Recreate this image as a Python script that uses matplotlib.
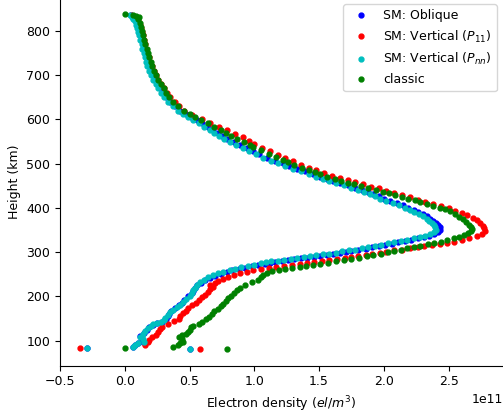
import numpy as np
import matplotlib
matplotlib.use('Agg')
import matplotlib.pyplot as plt

plt.rcParams['font.size'] = 9

# electron density profiles, density in units of 1e11 el/m^3, height in km
h_obl = [836, 832, 828, 822, 814, 806, 798, 790, 780, 770, 760, 750, 740, 730, 720, 710, 700, 690, 680,
         670, 660, 650, 640, 630, 620, 612, 605, 598, 591, 584, 577, 570, 563, 556, 549, 542, 535, 528,
         521, 514, 507, 501, 495, 489, 483, 477, 471, 466, 461, 456, 451, 446, 441, 436, 431, 426, 421,
         416, 411, 406, 401, 396, 391, 386, 381, 376, 371, 366, 361, 356, 351,
         346, 341, 337, 334, 331, 328, 325, 322, 319, 317, 314, 311, 308, 305, 303, 301, 298, 296, 294,
         292, 290, 288, 286, 284, 282, 280, 278, 276, 274, 271, 268, 265, 262, 259, 255, 251, 247, 242,
         237, 231, 225, 219, 213, 207, 200, 193, 186, 180, 173, 167, 161, 155, 149, 143, 140, 136, 131,
         124, 117, 111, 104, 97, 95, 90, 86, 84, 82]
ne_obl = [0.05, 0.065, 0.075, 0.09, 0.10, 0.105, 0.115, 0.12, 0.13, 0.14, 0.145, 0.155, 0.165, 0.175,
          0.185, 0.20, 0.215, 0.23, 0.25, 0.27, 0.295, 0.32, 0.35, 0.39, 0.43, 0.47, 0.51, 0.555, 0.60,
          0.64, 0.68, 0.72, 0.75, 0.79, 0.84, 0.89, 0.94, 0.99, 1.04, 1.10, 1.16, 1.22, 1.27, 1.33, 1.39,
          1.45, 1.51, 1.56, 1.61, 1.66, 1.72, 1.78, 1.83, 1.88, 1.92, 1.96, 2.00, 2.05, 2.10, 2.15, 2.19,
          2.23, 2.26, 2.30, 2.33, 2.36, 2.38, 2.40, 2.42, 2.43, 2.435,
          2.42, 2.39, 2.35, 2.31, 2.26, 2.21, 2.16, 2.11, 2.06, 2.01, 1.96, 1.91, 1.86, 1.80, 1.75, 1.71,
          1.66, 1.61, 1.56, 1.51, 1.46, 1.41, 1.36, 1.31, 1.26, 1.21, 1.16, 1.12, 1.08, 1.03, 0.98, 0.93,
          0.88, 0.83, 0.79, 0.74, 0.70, 0.66, 0.62, 0.59, 0.56, 0.54, 0.53, 0.52, 0.49, 0.46, 0.44, 0.42,
          0.39, 0.36, 0.34, 0.33, 0.32, 0.29, 0.25, 0.22, 0.19, 0.17, 0.15, 0.12, 0.13, 0.14, 0.10, 0.08,
          0.06, -0.29, 0.50]

h_p11 = [836, 832, 828, 822, 814, 806, 798, 790, 780, 770, 760, 750, 740, 730, 720, 710, 700, 690, 680,
         670, 660, 650, 640, 630, 620, 610, 600, 592, 584, 576, 568, 560, 552, 544, 536, 528, 520, 512,
         505, 498, 491, 485, 479, 473, 468, 463, 458, 453, 448, 444, 439, 434, 429, 424, 419, 414, 409,
         404, 399, 394, 389, 384, 378, 372, 366, 360, 354, 348,
         342, 337, 332, 328, 324, 321, 318, 316, 313, 311, 309, 306, 304, 301, 299, 297, 294, 292, 289,
         287, 285, 283, 280, 278, 276, 273, 271, 269, 267, 265, 262, 259, 256, 253, 249, 245, 240, 235,
         230, 226, 222, 216, 210, 204, 198, 192, 186, 180, 174, 168, 162, 156, 150, 144, 138, 132, 126,
         120, 114, 108, 102, 96, 90, 84, 82]
ne_p11 = [0.05, 0.07, 0.09, 0.105, 0.115, 0.125, 0.135, 0.14, 0.15, 0.155, 0.165, 0.175, 0.185, 0.195,
          0.21, 0.225, 0.24, 0.26, 0.28, 0.30, 0.325, 0.35, 0.385, 0.42, 0.46, 0.52, 0.60, 0.66, 0.73,
          0.79, 0.85, 0.91, 0.96, 1.00, 1.06, 1.12, 1.18, 1.24, 1.30, 1.36, 1.42, 1.48, 1.54, 1.60, 1.66,
          1.72, 1.78, 1.84, 1.90, 1.96, 2.02, 2.08, 2.14, 2.20, 2.26, 2.32, 2.38, 2.44, 2.50, 2.55, 2.60,
          2.645, 2.69, 2.72, 2.745, 2.765, 2.775, 2.78,
          2.76, 2.72, 2.66, 2.60, 2.54, 2.49, 2.43, 2.37, 2.31, 2.26, 2.20, 2.14, 2.08, 2.02, 1.97, 1.91,
          1.86, 1.80, 1.75, 1.70, 1.64, 1.58, 1.52, 1.46, 1.41, 1.35, 1.29, 1.23, 1.17, 1.11, 1.05, 0.99,
          0.94, 0.89, 0.84, 0.80, 0.76, 0.72, 0.70, 0.66, 0.68, 0.66, 0.64, 0.62, 0.60, 0.57, 0.55, 0.52,
          0.49, 0.47, 0.45, 0.43, 0.42, 0.38, 0.33, 0.29, 0.27, 0.26, 0.24, 0.21, 0.19, 0.18, 0.16,
          -0.345, 0.58]

h_pnn = [836, 832, 828, 822, 814, 806, 798, 790, 780, 770, 760, 750, 740, 730, 720, 710, 700, 690, 680,
         670, 660, 650, 640, 630, 620, 612, 605, 598, 591, 584, 577, 570, 563, 556, 549, 542, 535, 528,
         521, 514, 507, 501, 495, 489, 483, 477, 471, 466, 461, 456, 451, 446, 441, 436, 431, 426, 421,
         416, 411, 406, 401, 396, 391, 386, 381, 376, 371, 366, 361, 356, 351,
         346, 341, 337, 334, 331, 328, 325, 322, 320, 317, 314, 311, 309, 306, 304, 302, 299, 297, 295,
         293, 291, 289, 287, 285, 283, 281, 279, 277, 275, 272, 269, 266, 263, 260, 256, 252, 248, 243,
         238, 232, 226, 220, 214, 208, 201, 194, 187, 181, 176, 170, 164, 158, 152, 146, 142, 141, 138,
         133, 128, 121, 115, 109, 103, 98, 95, 91, 86, 84, 82]
ne_pnn = [0.04, 0.055, 0.065, 0.08, 0.09, 0.095, 0.105, 0.11, 0.12, 0.13, 0.135, 0.145, 0.155, 0.165,
          0.175, 0.19, 0.205, 0.22, 0.24, 0.26, 0.28, 0.305, 0.335, 0.37, 0.41, 0.45, 0.49, 0.53, 0.575,
          0.615, 0.655, 0.69, 0.725, 0.765, 0.81, 0.86, 0.91, 0.96, 1.01, 1.07, 1.13, 1.18, 1.24, 1.30,
          1.36, 1.42, 1.48, 1.53, 1.58, 1.63, 1.69, 1.75, 1.80, 1.85, 1.89, 1.93, 1.97, 2.02, 2.07, 2.12,
          2.16, 2.20, 2.23, 2.27, 2.30, 2.33, 2.35, 2.37, 2.385, 2.395, 2.40,
          2.385, 2.355, 2.32, 2.28, 2.23, 2.18, 2.13, 2.08, 2.03, 1.98, 1.93, 1.88, 1.83, 1.78, 1.73, 1.68,
          1.63, 1.58, 1.53, 1.48, 1.43, 1.38, 1.33, 1.28, 1.23, 1.18, 1.13, 1.09, 1.05, 1.00, 0.95, 0.90,
          0.85, 0.81, 0.76, 0.72, 0.68, 0.64, 0.61, 0.58, 0.56, 0.545, 0.53, 0.52, 0.50, 0.47, 0.45, 0.43,
          0.40, 0.37, 0.35, 0.33, 0.31, 0.30, 0.28, 0.25, 0.22, 0.20, 0.18, 0.16, 0.14, 0.12, 0.14, 0.145,
          0.10, 0.08, 0.065, -0.29, 0.505]

h_cls = [838, 836, 834, 832, 826, 818, 810, 800, 790, 780, 770, 760, 750, 740, 730, 720, 710, 700, 690,
         680, 670, 660, 650, 640, 630, 620, 612, 605, 598, 591, 584, 577, 570, 563, 556, 549, 542, 537,
         530, 523, 516, 509, 503, 497, 491, 486, 481, 476, 471, 466, 461, 457, 453, 449, 445, 441, 437,
         433, 429, 425, 421, 417, 413, 409, 405, 401, 397, 392, 386, 380, 374, 368, 362, 357, 352,
         347, 343, 339, 335, 331, 328, 324, 321, 318, 315, 312, 309, 306, 303, 300, 297, 294, 291, 288,
         285, 282, 279, 276, 273, 270, 268, 266, 264, 262, 260, 257, 253, 249, 244, 238, 232, 226, 220,
         214, 208, 202, 196, 190, 184, 178, 172, 166, 160, 154, 148, 142, 138, 134, 130, 125, 120, 116,
         112, 108, 103, 98, 94, 90, 86, 84, 82]
ne_cls = [0.0, 0.06, 0.09, 0.11, 0.105, 0.12, 0.125, 0.135, 0.14, 0.15, 0.155, 0.17, 0.18, 0.19, 0.20,
          0.21, 0.225, 0.24, 0.26, 0.28, 0.30, 0.32, 0.345, 0.375, 0.41, 0.455, 0.50, 0.545, 0.59, 0.64,
          0.69, 0.74, 0.78, 0.82, 0.87, 0.92, 0.97, 0.99, 1.05, 1.11, 1.17, 1.22, 1.26, 1.31, 1.37, 1.42,
          1.47, 1.51, 1.56, 1.62, 1.67, 1.72, 1.77, 1.82, 1.88, 1.94, 1.99, 2.04, 2.09, 2.14, 2.19, 2.24,
          2.28, 2.33, 2.38, 2.43, 2.47, 2.51, 2.55, 2.58, 2.61, 2.635, 2.655, 2.67, 2.68,
          2.67, 2.65, 2.62, 2.58, 2.54, 2.49, 2.44, 2.39, 2.34, 2.28, 2.23, 2.18, 2.13, 2.08, 2.03, 1.98,
          1.92, 1.87, 1.81, 1.75, 1.69, 1.63, 1.57, 1.51, 1.45, 1.40, 1.35, 1.29, 1.24, 1.19, 1.14, 1.10,
          1.07, 1.05, 1.03, 0.98, 0.93, 0.89, 0.87, 0.84, 0.82, 0.80, 0.78, 0.76, 0.74, 0.72, 0.69, 0.67,
          0.65, 0.63, 0.60, 0.57, 0.53, 0.51, 0.50, 0.49, 0.47, 0.44, 0.42, 0.44, 0.45, 0.43, 0.41, 0.37,
          0.0, 0.79]

series = [
    (ne_obl, h_obl, 'b', 'SM: Oblique'),
    (ne_p11, h_p11, 'r', 'SM: Vertical ($P_{11}$)'),
    (ne_pnn, h_pnn, 'c', 'SM: Vertical ($P_{nn}$)'),
    (ne_cls, h_cls, 'g', 'classic'),
]

fig = plt.figure(figsize=(5.03, 4.16), dpi=100)
ax = fig.add_axes([60 / 503, 50.3 / 416, 443 / 503, 367.5 / 416])

for ne, h, c, lab in series:
    ax.plot(np.array(ne) * 1e11, h, '.', color=c, ms=7, label=lab)

ax.set_xlim(-0.5e11, 2.92e11)
ax.set_ylim(43.5, 874)
ax.spines['top'].set_visible(False)
ax.spines['right'].set_visible(False)
ax.set_xlabel('Electron density ($el/m^3$)')
ax.set_ylabel('Height (km)')
ax.legend(loc='upper right')

fig.savefig('out.png', dpi=100)
